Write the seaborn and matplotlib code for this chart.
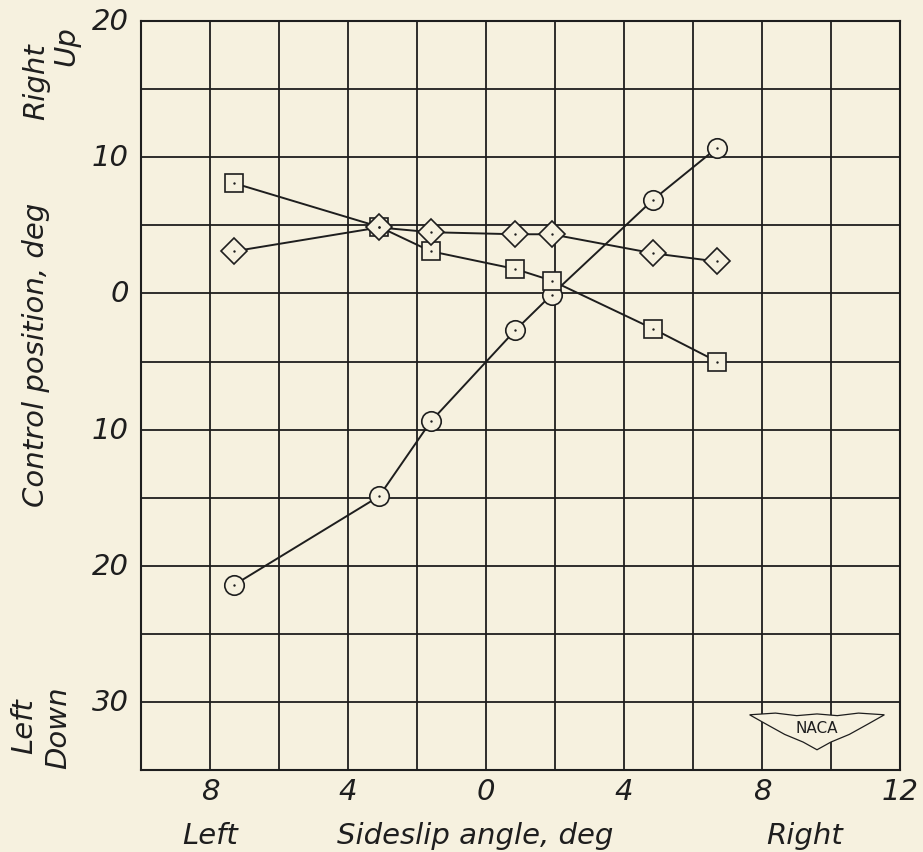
import matplotlib
matplotlib.use("Agg")
import matplotlib.pyplot as plt
import seaborn as sns
import pandas as pd
from matplotlib.patches import Polygon

# sideslip angle, deg (left negative)
sideslip = [-7.3, -3.1, -1.6, 0.85, 1.9, 4.85, 6.7]
# control positions, deg (up/right positive)
circle_vals = [-21.4, -14.9, -9.4, -2.7, -0.1, 6.9, 10.7]
square_vals = [8.1, 4.9, 3.1, 1.8, 0.95, -2.6, -5.0]
diamond_vals = [3.1, 4.85, 4.5, 4.35, 4.35, 2.95, 2.35]

x_ticks = [-8, -4, 0, 4, 8, 12]
x_labels = ["8", "4", "0", "4", "8", "12"]
y_ticks = [20, 10, 0, -10, -20, -30]
y_labels = ["20", "10", "0", "10", "20", "30"]

bg = "#f6f1df"
ink = "#1e1e1e"

sns.set_style("white")
plt.rcParams["font.family"] = ["DejaVu Sans"]
plt.rcParams["font.style"] = "italic"

fig = plt.figure(figsize=(9.23, 8.53), dpi=100, facecolor=bg)
ax = fig.add_axes([0.1528, 0.0961, 0.8222, 0.8779])
ax.set_facecolor(bg)

df = pd.DataFrame({"beta": sideslip, "circ": circle_vals,
                   "sq": square_vals, "dia": diamond_vals})

series = [("circ", "o", 14), ("sq", "s", 12.5), ("dia", "D", 13)]
for col, mk, ms in series:
    sns.lineplot(data=df, x="beta", y=col, ax=ax, color=ink, lw=1.4,
                 marker=mk, markersize=ms, markerfacecolor=bg,
                 markeredgecolor=ink, markeredgewidth=1.2, zorder=3)
    sns.scatterplot(data=df, x="beta", y=col, ax=ax, color=ink, s=3,
                    linewidth=0, zorder=4)

ax.set_xlim(-10, 12)
ax.set_ylim(-35, 20)
ax.set_xticks(range(-10, 13, 2))
ax.set_yticks(range(-35, 21, 5))
ax.grid(True, color=ink, lw=1.3)
ax.set_axisbelow(True)
for s in ax.spines.values():
    s.set_color(ink)
    s.set_linewidth(1.5)
ax.tick_params(length=0, labelbottom=False, labelleft=False)
ax.set_xlabel("")
ax.set_ylabel("")

fs = 21
for xt, lab in zip(x_ticks, x_labels):
    ax.text(xt, -35.5, lab, ha="center", va="top", fontsize=fs, color=ink)
for yt, lab in zip(y_ticks, y_labels):
    ax.text(-10.35, yt, lab, ha="right", va="center", fontsize=fs, color=ink)

# x-axis captions
fig.text(210 / 923, 1 - 836 / 853, "Left", ha="center", va="center", fontsize=fs, color=ink)
fig.text(475 / 923, 1 - 836 / 853, "Sideslip angle, deg", ha="center", va="center", fontsize=fs, color=ink)
fig.text(805 / 923, 1 - 836 / 853, "Right", ha="center", va="center", fontsize=fs, color=ink)

# y-axis captions
fig.text(36 / 923, 1 - 355 / 853, "Control position, deg", rotation=90, ha="center", va="center", fontsize=fs, color=ink)
fig.text(36 / 923, 1 - 82 / 853, "Right", rotation=90, ha="center", va="center", fontsize=fs, color=ink)
fig.text(66 / 923, 1 - 46 / 853, "Up", rotation=90, ha="center", va="center", fontsize=fs, color=ink)
fig.text(24 / 923, 1 - 726 / 853, "Left", rotation=90, ha="center", va="center", fontsize=fs, color=ink)
fig.text(58 / 923, 1 - 728 / 853, "Down", rotation=90, ha="center", va="center", fontsize=fs, color=ink)

# NACA wing badge
cx, cy = 817 / 923, 1 - 732 / 853
w = [(-0.073, 0.019), (-0.045, 0.021), (-0.022, 0.018), (0.0, 0.020), (0.022, 0.018),
     (0.045, 0.021), (0.073, 0.019), (0.055, 0.008), (0.035, -0.004), (0.015, -0.013),
     (0.0, -0.022), (-0.015, -0.013), (-0.035, -0.004), (-0.055, 0.008)]
wing = Polygon([(cx + a, cy + b) for a, b in w], closed=True, transform=fig.transFigure,
               facecolor=bg, edgecolor=ink, lw=0.9, zorder=5)
fig.patches.append(wing)
fig.text(cx, cy + 0.004, "NACA", ha="center", va="center", fontsize=11, style="normal",
         color=ink, zorder=6)

fig.savefig("out.png", dpi=100, facecolor=bg)
